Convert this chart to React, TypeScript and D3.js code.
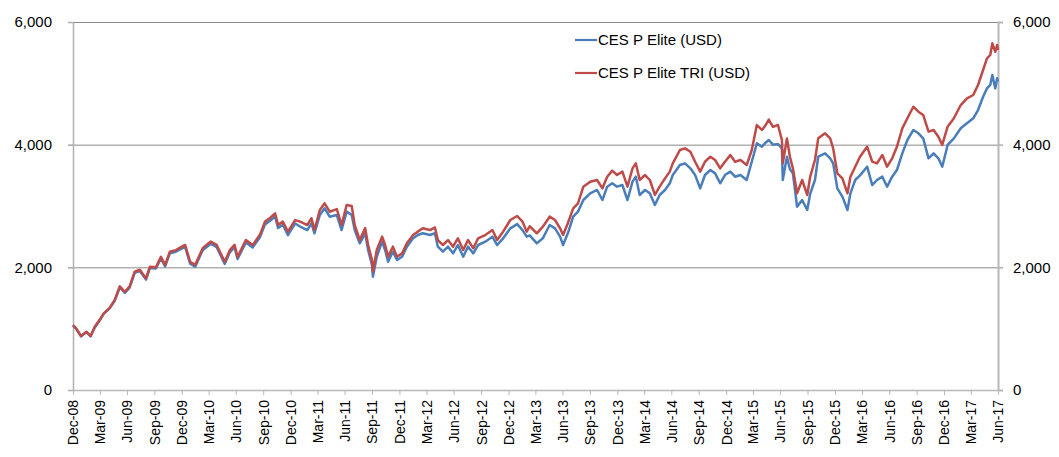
import React, { useRef, useEffect } from "react";
import * as d3 from "d3";

// reading dates (end of 2008 to mid 2017)
const dates = [
  "2008-12-31", "2009-01-11", "2009-01-27", "2009-02-14", "2009-02-28", "2009-03-14", "2009-03-30", "2009-04-13",
  "2009-05-03", "2009-05-20", "2009-06-06", "2009-06-23", "2009-07-09", "2009-07-26", "2009-08-12", "2009-09-02",
  "2009-09-15", "2009-10-05", "2009-10-22", "2009-11-05", "2009-11-21", "2009-12-11", "2010-01-11", "2010-01-28",
  "2010-02-14", "2010-03-11", "2010-04-07", "2010-04-27", "2010-05-24", "2010-06-10", "2010-06-26", "2010-07-06",
  "2010-08-03", "2010-08-26", "2010-09-19", "2010-10-06", "2010-10-22", "2010-11-09", "2010-11-19", "2010-12-05",
  "2010-12-22", "2011-01-15", "2011-02-01", "2011-02-25", "2011-03-11", "2011-03-21", "2011-04-08", "2011-04-24",
  "2011-05-11", "2011-06-04", "2011-06-20", "2011-07-07", "2011-07-24", "2011-08-03", "2011-08-20", "2011-09-07",
  "2011-09-17", "2011-09-30", "2011-10-03", "2011-10-16", "2011-11-03", "2011-11-13", "2011-11-23", "2011-12-09",
  "2011-12-23", "2012-01-09", "2012-01-25", "2012-02-15", "2012-03-02", "2012-03-18", "2012-04-12", "2012-04-28",
  "2012-05-08", "2012-05-25", "2012-06-11", "2012-06-28", "2012-07-14", "2012-08-01", "2012-08-17", "2012-09-04",
  "2012-09-20", "2012-10-14", "2012-11-07", "2012-11-23", "2012-12-13", "2013-01-06", "2013-01-29", "2013-02-16",
  "2013-03-02", "2013-03-12", "2013-04-05", "2013-04-25", "2013-05-18", "2013-06-05", "2013-06-22", "2013-07-02",
  "2013-07-18", "2013-08-05", "2013-08-21", "2013-09-08", "2013-10-01", "2013-10-24", "2013-11-11", "2013-11-27",
  "2013-12-14", "2013-12-30", "2014-01-17", "2014-02-03", "2014-02-20", "2014-03-03", "2014-03-16", "2014-04-03",
  "2014-04-19", "2014-05-06", "2014-05-22", "2014-06-09", "2014-06-25", "2014-07-05", "2014-07-29", "2014-08-15",
  "2014-09-02", "2014-09-18", "2014-10-05", "2014-10-21", "2014-11-08", "2014-11-24", "2014-12-11", "2014-12-27",
  "2015-01-14", "2015-01-30", "2015-02-17", "2015-03-10", "2015-03-27", "2015-04-13", "2015-04-30", "2015-05-10",
  "2015-05-23", "2015-06-06", "2015-06-23", "2015-07-06", "2015-07-09", "2015-07-23", "2015-08-02", "2015-08-12",
  "2015-08-26", "2015-09-12", "2015-09-29", "2015-10-09", "2015-10-25", "2015-11-05", "2015-11-28", "2015-12-15",
  "2015-12-25", "2016-01-08", "2016-01-25", "2016-02-11", "2016-02-21", "2016-03-08", "2016-03-24", "2016-04-17",
  "2016-05-04", "2016-05-20", "2016-06-07", "2016-06-23", "2016-07-10", "2016-07-26", "2016-08-13", "2016-08-30",
  "2016-09-19", "2016-10-06", "2016-10-22", "2016-11-09", "2016-11-26", "2016-12-12", "2016-12-25", "2017-01-12",
  "2017-02-02", "2017-02-25", "2017-03-18", "2017-04-08", "2017-04-24", "2017-05-11", "2017-05-24", "2017-06-04",
  "2017-06-11", "2017-06-21", "2017-06-27", "2017-06-30"
];

// CES P Elite (USD)
const elite = [
  1050, 995, 875, 945, 875, 1020, 1130, 1240, 1330, 1455, 1675, 1585, 1670, 1910, 1940, 1800,
  1990, 1980, 2145, 2015, 2230, 2255, 2335, 2060, 2010, 2280, 2385, 2330, 2055, 2245, 2330, 2135,
  2405, 2325, 2490, 2700, 2755, 2830, 2640, 2695, 2525, 2715, 2665, 2608, 2718, 2555, 2853, 2962,
  2826, 2853, 2608, 2908, 2853, 2608, 2391, 2555, 2282, 2038, 1847, 2173, 2418, 2282, 2092, 2255,
  2120, 2173, 2337, 2473, 2527, 2555, 2527, 2555, 2337, 2255, 2337, 2228, 2364, 2173, 2337, 2228,
  2364, 2418, 2500, 2364, 2473, 2636, 2705, 2608, 2500, 2520, 2391, 2473, 2690, 2636, 2500, 2364,
  2555, 2826, 2908, 3098, 3207, 3261, 3098, 3315, 3370, 3315, 3342, 3098, 3397, 3478, 3180, 3261,
  3207, 3016, 3180, 3261, 3370, 3505, 3668, 3696, 3614, 3505, 3288, 3505, 3587, 3532, 3370, 3505,
  3560, 3478, 3505, 3424, 3722, 4022, 3967, 4022, 4076, 4000, 4010, 3940, 3424, 3804, 3600, 3533,
  2989, 3098, 2935, 3200, 3424, 3804, 3858, 3777, 3696, 3288, 3153, 2935, 3207, 3424, 3500, 3641,
  3342, 3424, 3478, 3315, 3478, 3587, 3858, 4076, 4239, 4185, 4103, 3777, 3858, 3777, 3641, 3995,
  4103, 4267, 4348, 4430, 4565, 4782, 4918, 4973, 5136, 4918, 5082, 5027
];

// CES P Elite TRI (USD)
const eliteTri = [
  1060, 1000, 880, 950, 880, 1030, 1140, 1250, 1340, 1470, 1690, 1600, 1690, 1930, 1960, 1820,
  2010, 2000, 2170, 2040, 2255, 2280, 2365, 2090, 2040, 2310, 2420, 2365, 2090, 2280, 2365, 2170,
  2445, 2365, 2530, 2745, 2800, 2880, 2690, 2745, 2580, 2770, 2745, 2690, 2800, 2608, 2935, 3044,
  2907, 2950, 2690, 3016, 3000, 2690, 2445, 2640, 2364, 2120, 1930, 2282, 2500, 2364, 2173, 2337,
  2173, 2228, 2391, 2527, 2582, 2636, 2608, 2650, 2445, 2364, 2445, 2337, 2473, 2282, 2445, 2310,
  2473, 2527, 2608, 2445, 2582, 2772, 2837, 2744, 2582, 2670, 2555, 2663, 2826, 2772, 2636, 2527,
  2718, 2962, 3044, 3315, 3396, 3424, 3288, 3478, 3576, 3505, 3560, 3315, 3614, 3696, 3424, 3505,
  3424, 3180, 3315, 3450, 3560, 3696, 3913, 3940, 3885, 3722, 3560, 3722, 3804, 3750, 3614, 3722,
  3830, 3722, 3750, 3668, 3913, 4320, 4240, 4300, 4410, 4290, 4320, 4076, 3696, 4100, 3804, 3614,
  3207, 3424, 3180, 3478, 3750, 4103, 4185, 4103, 3940, 3533, 3451, 3207, 3478, 3641, 3804, 3967,
  3723, 3696, 3831, 3641, 3777, 3967, 4266, 4430, 4619, 4538, 4484, 4212, 4240, 4130, 3995, 4294,
  4430, 4646, 4755, 4810, 4973, 5217, 5407, 5462, 5652, 5515, 5625, 5543
];

const yTicks = [0, 2000, 4000, 6000];
const seriesNames = ["CES P Elite (USD)", "CES P Elite TRI (USD)"];
const seriesColors = ["#4a7ebb", "#be4b48"];

function App() {
  const ref = useRef(null);

  const w = 1059,
    h = 457,
    margin = { top: 22, right: 61, bottom: 67, left: 73 };

  const width = w - margin.left - margin.right,
    height = h - margin.top - margin.bottom;

  useEffect(() => {
    const root = d3.select(ref.current);
    root.selectAll("*").remove();

    const svg = root
      .append("svg")
      .attr("width", w)
      .attr("height", h)
      .style("position", "absolute")
      .style("left", 0)
      .style("top", 0)
      .style("font-family", "'Liberation Sans', Arial, sans-serif");

    const g = svg
      .append("g")
      .attr("transform", `translate(${margin.left},${margin.top})`);

    const parse = d3.timeParse("%Y-%m-%d");
    const pts = dates.map((d, i) => ({
      date: parse(d),
      a: elite[i],
      b: eliteTri[i]
    }));

    const x = d3
      .scaleTime()
      .domain([parse("2008-12-31"), parse("2017-06-30")])
      .range([0, width]);

    const y = d3.scaleLinear().domain([0, 6000]).range([height, 0]);

    // quarter ends: Dec-08 ... Jun-17
    const qTicks = d3.timeMonth
      .range(new Date(2008, 11, 1), new Date(2017, 6, 1), 3)
      .map(d => d3.timeDay.offset(d3.timeMonth.offset(d, 1), -1));

    // gridlines
    g.append("g")
      .selectAll("line")
      .data(yTicks.filter(t => t > 0))
      .enter()
      .append("line")
      .attr("x1", -5)
      .attr("x2", width + 5)
      .attr("y1", d => y(d) + 0.5)
      .attr("y2", d => y(d) + 0.5)
      .attr("stroke", "#898989")
      .attr("stroke-width", 1);

    // left axis
    const yLeft = d3
      .axisLeft(y)
      .tickValues(yTicks)
      .tickFormat(d3.format(","))
      .tickSize(5)
      .tickPadding(16);
    g.append("g")
      .call(yLeft)
      .call(a => a.select(".domain").attr("stroke", "#b0b0b0").attr("stroke-width", 1.5))
      .call(a => a.selectAll(".tick line").attr("stroke", "#b0b0b0"))
      .call(a =>
        a.selectAll("text").attr("font-size", 15).attr("fill", "#000").attr("font-family", null)
      );

    // right axis
    const yRight = d3
      .axisRight(y)
      .tickValues(yTicks)
      .tickFormat(d3.format(","))
      .tickSize(5)
      .tickPadding(10);
    g.append("g")
      .attr("transform", `translate(${width},0)`)
      .call(yRight)
      .call(a => a.select(".domain").attr("stroke", "#b8b8b8").attr("stroke-width", 2))
      .call(a => a.selectAll(".tick line").attr("stroke", "#b8b8b8"))
      .call(a =>
        a.selectAll("text").attr("font-size", 15).attr("fill", "#000").attr("font-family", null)
      );

    // bottom axis
    const xAxis = d3
      .axisBottom(x)
      .tickValues(qTicks)
      .tickFormat(d3.timeFormat("%b-%y"))
      .tickSize(5)
      .tickSizeOuter(0);
    g.append("g")
      .attr("transform", `translate(0,${height})`)
      .call(xAxis)
      .call(a => a.select(".domain").attr("stroke", "#b8b8b8").attr("stroke-width", 1.5))
      .call(a => a.selectAll(".tick line").attr("stroke", "#b8b8b8"))
      .call(a =>
        a
          .selectAll("text")
          .attr("font-size", 14)
          .attr("fill", "#000")
          .attr("font-family", null)
          .attr("text-anchor", "end")
          .attr("transform", "rotate(-90)")
          .attr("x", -10)
          .attr("y", 0)
          .attr("dy", "0.35em")
      );

    const lineA = d3
      .line()
      .x(d => x(d.date))
      .y(d => y(d.a));
    const lineB = d3
      .line()
      .x(d => x(d.date))
      .y(d => y(d.b));

    g.append("path")
      .datum(pts)
      .attr("d", lineA)
      .attr("fill", "none")
      .attr("stroke", seriesColors[0])
      .attr("stroke-width", 2.5)
      .attr("stroke-linejoin", "round");

    g.append("path")
      .datum(pts)
      .attr("d", lineB)
      .attr("fill", "none")
      .attr("stroke", seriesColors[1])
      .attr("stroke-width", 2.5)
      .attr("stroke-linejoin", "round");

    // legend
    const legend = svg
      .append("g")
      .attr("transform", "translate(575,40)")
      .selectAll("g")
      .data(seriesNames)
      .enter()
      .append("g")
      .attr("transform", (d, i) => `translate(0,${i * 33})`);
    legend
      .append("line")
      .attr("x1", 0)
      .attr("x2", 22)
      .attr("stroke", (d, i) => seriesColors[i])
      .attr("stroke-width", 2.2);
    legend
      .append("text")
      .attr("x", 23)
      .attr("dy", "0.35em")
      .attr("font-size", 15)
      .text(d => d);
  }, []);

  return <div className="App" ref={ref}></div>;
}

export default App;
